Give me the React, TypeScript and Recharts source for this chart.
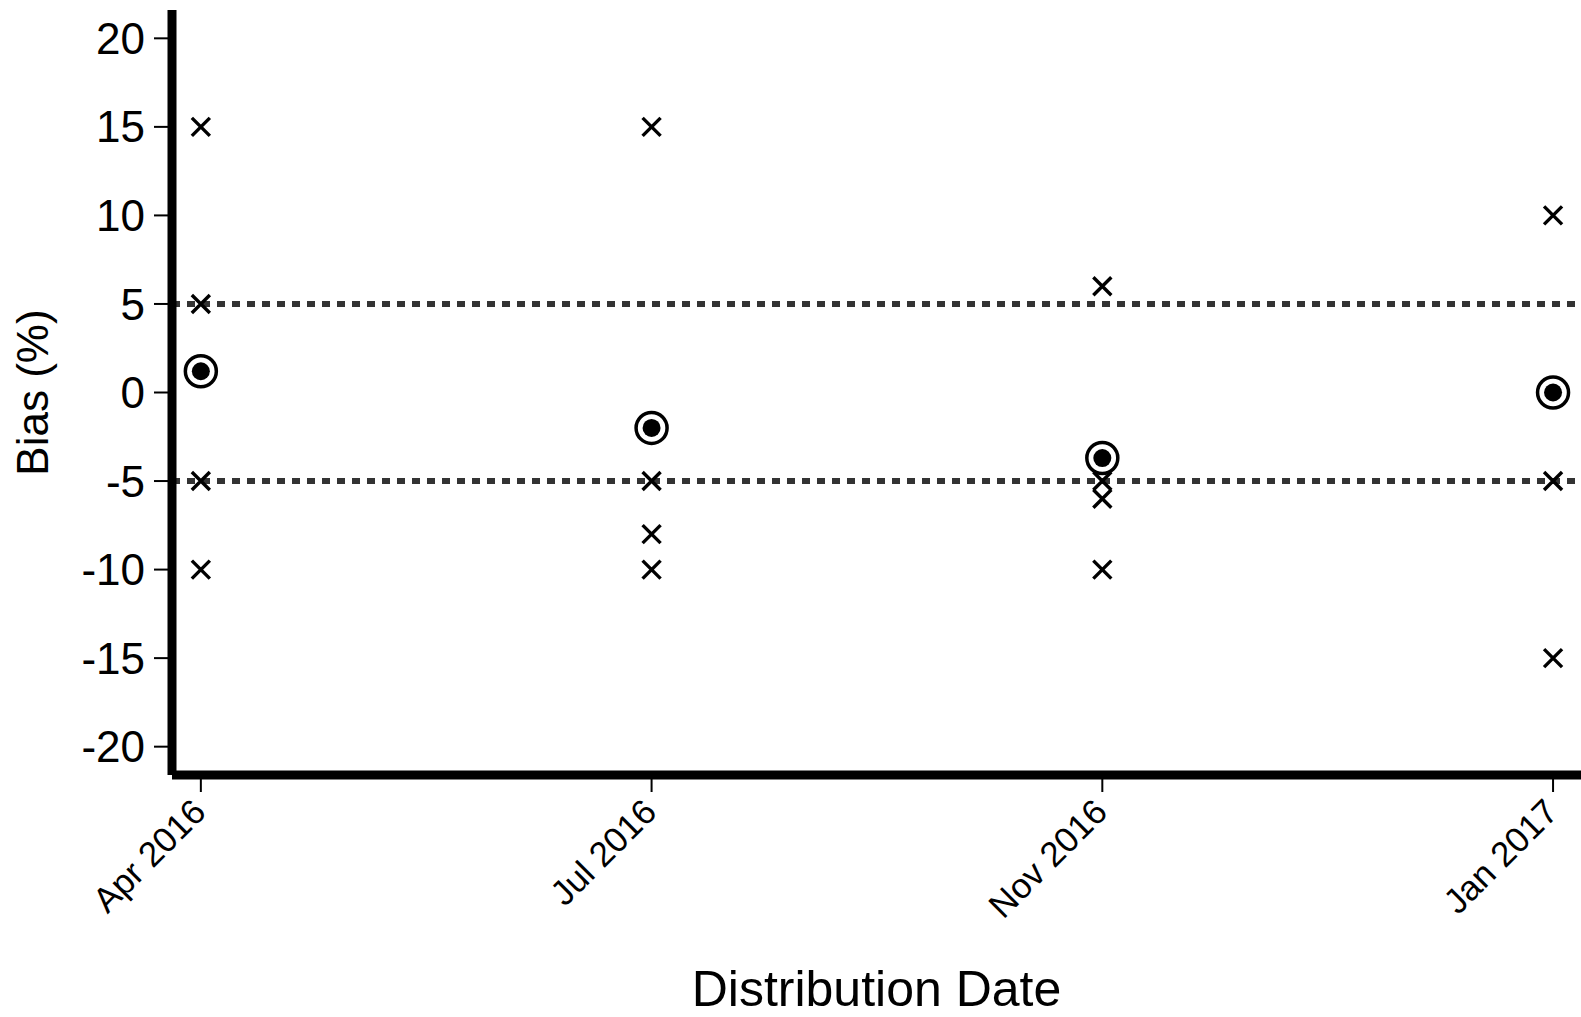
import { ScatterChart, Scatter, XAxis, YAxis, ReferenceLine } from "recharts";

const dates = ["Apr 2016", "Jul 2016", "Nov 2016", "Jan 2017"];
const aprResults = [15, 5, -5, -10];
const julResults = [15, -5, -8, -10];
const novResults = [6, -5, -6, -10];
const janResults = [10, -5, -15];
const meanBias = [1.2, -2, -3.7, 0];
const limits = [5, -5];
const yTicks = [-20, -15, -10, -5, 0, 5, 10, 15, 20];

const results = [aprResults, julResults, novResults, janResults].flatMap((vals, i) =>
  vals.map((v) => ({ x: i, y: v }))
);
const means = meanBias.map((v, i) => ({ x: i, y: v }));

const FONT = "'Liberation Sans', Arial, sans-serif";

const Cross = (props: any) => {
  const { cx, cy } = props;
  const s = 9;
  return (
    <path
      d={`M${cx - s},${cy - s}L${cx + s},${cy + s}M${cx - s},${cy + s}L${cx + s},${cy - s}`}
      stroke="#000"
      strokeWidth={3.4}
      fill="none"
    />
  );
};

const Target = (props: any) => {
  const { cx, cy } = props;
  return (
    <g>
      <circle cx={cx} cy={cy} r={15.5} fill="#fff" stroke="#000" strokeWidth={3.5} />
      <circle cx={cx} cy={cy} r={9} fill="#000" />
    </g>
  );
};

const DateTick = (props: any) => {
  const { x, y, payload } = props;
  const ax = x + 7;
  const ay = y + 22;
  return (
    <text
      x={ax}
      y={ay}
      textAnchor="end"
      transform={`rotate(-45, ${ax}, ${ay})`}
      fontSize={35}
      fontFamily={FONT}
      fill="#000"
    >
      {dates[payload.value]}
    </text>
  );
};

export default function App() {
  return (
    <div style={{ position: "absolute", left: 0, top: 0, width: 1581, height: 1017, background: "#fff" }}>
      <ScatterChart width={1581} height={1017} margin={{ top: 10, right: 0, left: 0, bottom: 0 }}>
        <XAxis
          type="number"
          dataKey="x"
          domain={[-0.064, 3.062]}
          ticks={[0, 1, 2, 3]}
          allowDataOverflow
          height={242}
          axisLine={{ stroke: "#000", strokeWidth: 9 }}
          tickLine={{ stroke: "#000", strokeWidth: 2 }}
          tickSize={17}
          tickMargin={0}
          tick={<DateTick />}
          label={{
            content: (p: any) => {
              const vb = p.viewBox;
              return (
                <text x={vb.x + vb.width / 2} y={1006} textAnchor="middle" fontSize={50} fontFamily={FONT} fill="#000">
                  Distribution Date
                </text>
              );
            },
          }}
        />
        <YAxis
          type="number"
          dataKey="y"
          domain={[-21.6, 21.6]}
          ticks={yTicks}
          allowDataOverflow
          width={172}
          axisLine={{ stroke: "#000", strokeWidth: 9 }}
          tickLine={{ stroke: "#000", strokeWidth: 2 }}
          tickSize={18}
          tickMargin={9}
          tick={{ fontSize: 44, fontFamily: FONT, fill: "#000" }}
          label={{
            content: (p: any) => {
              const vb = p.viewBox;
              const cy = vb.y + vb.height / 2;
              return (
                <text x={48} y={cy} textAnchor="middle" transform={`rotate(-90, 48, ${cy})`} fontSize={44} fontFamily={FONT} fill="#000">
                  Bias (%)
                </text>
              );
            },
          }}
        />
        {limits.map((v) => (
          <ReferenceLine key={v} y={v} stroke="#333" strokeWidth={6} strokeDasharray="8 7" />
        ))}
        <Scatter data={results} shape={<Cross />} isAnimationActive={false} />
        <Scatter data={means} shape={<Target />} isAnimationActive={false} />
      </ScatterChart>
    </div>
  );
}
